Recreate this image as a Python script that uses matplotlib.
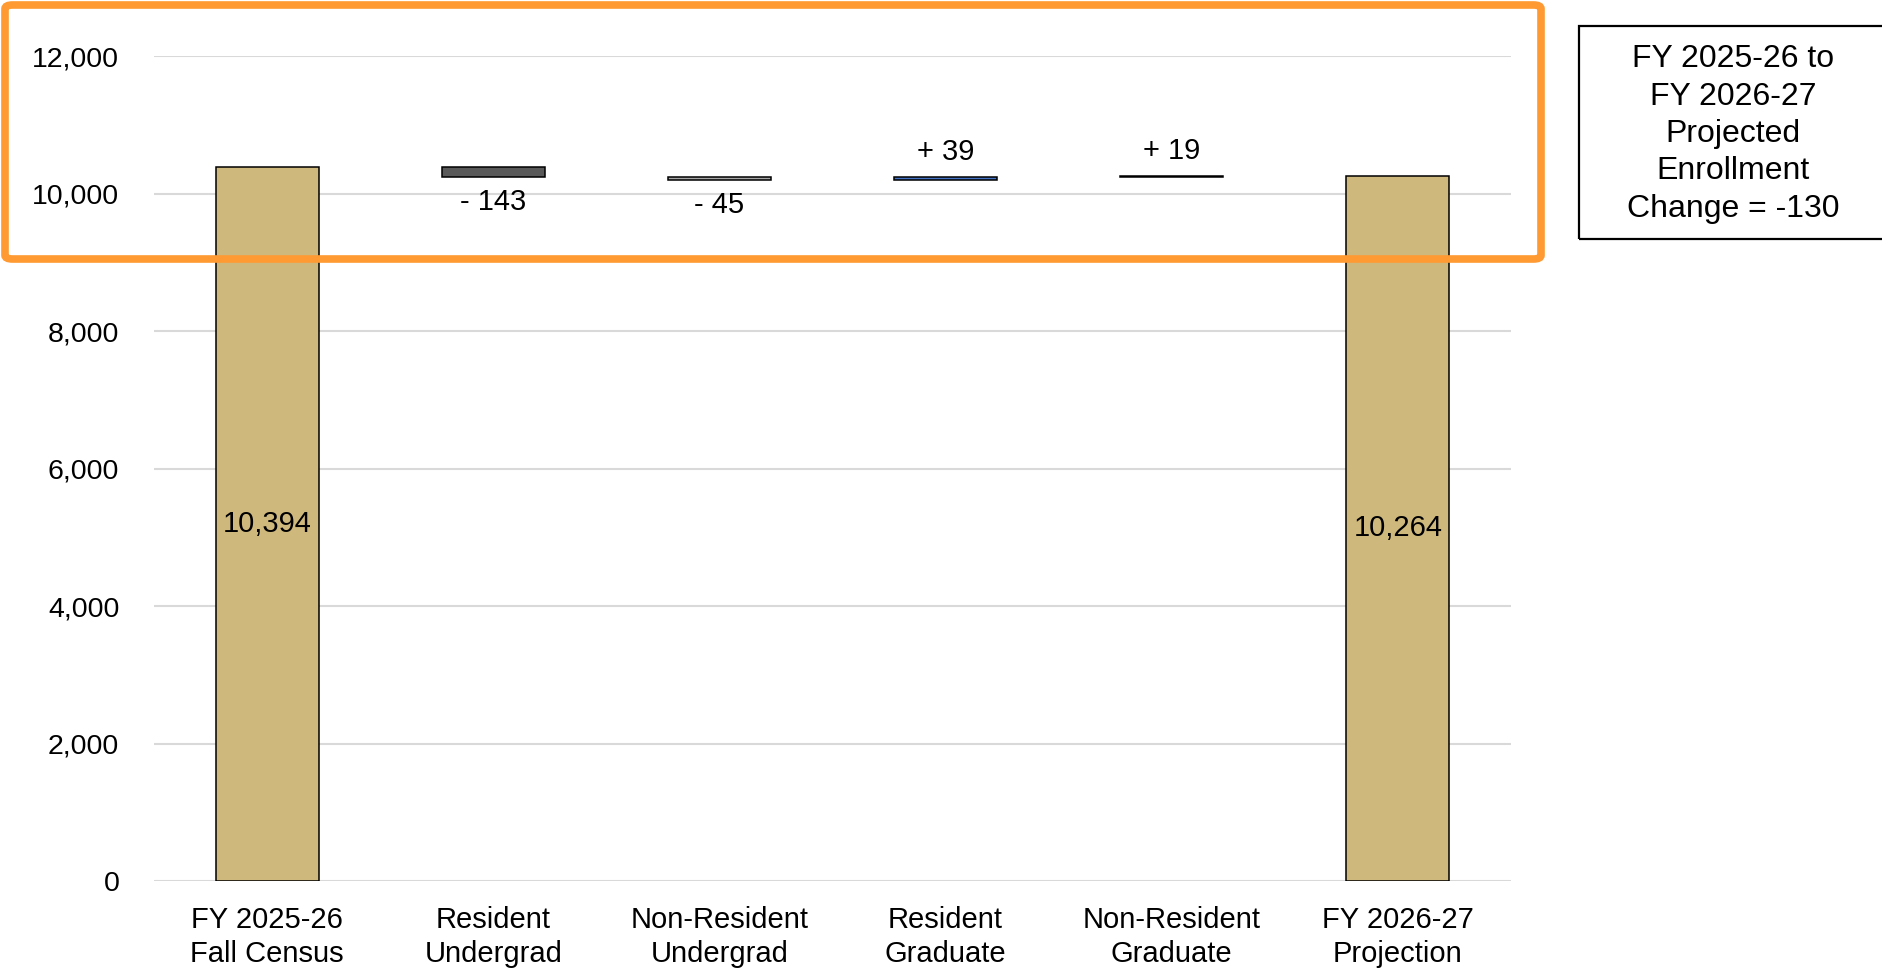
import matplotlib.pyplot as plt
from matplotlib.patches import FancyBboxPatch, Rectangle
import numpy as np

## Data
categories = ["FY 2025-26\nFall Census", "Resident\nUndergrad", "Non-Resident\nUndergrad",
              "Resident\nGraduate", "Non-Resident\nGraduate", "FY 2026-27\nProjection"]
start_total = 10394
changes = [-143, -45, 39, 19]
end_total = 10264
yticks = [0, 2000, 4000, 6000, 8000, 10000, 12000]
note_text = "FY 2025-26 to\nFY 2026-27\nProjected\nEnrollment\nChange = -130"

gold = "#CFB87C"
change_colors = ["#595959", "#A6A6A6", "#4472C4", "#404040"]

plt.rcParams['font.family'] = ['Liberation Sans', 'DejaVu Sans']

fig = plt.figure(figsize=(18.83, 9.69), dpi=100)
W, H = 1883, 969
ax = fig.add_axes([154 / W, 1 - 881 / H, (1511 - 154) / W, (881 - 56.3) / H])

x = np.arange(len(categories))
bw = 0.456
fs = 21

# totals
ax.bar([x[0], x[-1]], [start_total, end_total], width=bw, color=gold,
       edgecolor="black", linewidth=1.1, zorder=3)
for xi, v in ((x[0], start_total), (x[-1], end_total)):
    ax.text(xi, v / 2, f"{v:,}", ha="center", va="center", fontsize=fs, zorder=4)

# floating change bars
level = start_total
for i, d in enumerate(changes):
    xi = x[i + 1]
    bottom = level + min(d, 0)
    ax.bar(xi, abs(d), bottom=bottom, width=bw, color=change_colors[i],
           edgecolor="black", linewidth=1.1, zorder=3)
    if d < 0:
        lab = f"- {abs(d)}"
        ax.annotate(lab, (xi, bottom), xytext=(0, -18), textcoords="offset points",
                    ha="center", va="center", fontsize=fs, zorder=4)
    else:
        lab = f"+ {d}"
        ax.annotate(lab, (xi, bottom + d), xytext=(0, 18), textcoords="offset points",
                    ha="center", va="center", fontsize=fs, zorder=4)
    level += d

ax.set_xlim(-0.5, 5.5)
ax.set_ylim(0, 12000)
ax.set_yticks(yticks)
ax.set_yticklabels([f"{t:,}" for t in yticks])
ax.set_xticks(x)
ax.set_xticklabels(categories, fontsize=fs, linespacing=1.25)
ax.tick_params(axis="y", length=0, pad=25, labelsize=20.5)
ax.tick_params(axis="x", length=0, pad=18)
ax.grid(axis="y", color="#D9D9D9", linewidth=1.5, zorder=0)
for s in ax.spines.values():
    s.set_visible(False)

# orange highlight box around the top of the chart
hl = FancyBboxPatch((5 / W, 1 - 259 / H), (1541 - 5) / W, (259 - 5) / H,
                    boxstyle="round,pad=0,rounding_size=0.004",
                    transform=fig.transFigure, fill=False, edgecolor="#FF9A33",
                    linewidth=5.5, zorder=10)
fig.patches.append(hl)

# note box on the right (runs off the right edge)
note = Rectangle((1579 / W, 1 - 239 / H), 400 / W, (239 - 26) / H,
                 transform=fig.transFigure, fill=False, edgecolor="black", linewidth=1.6)
fig.patches.append(note)
fig.text(1733 / W, 1 - 134 / H, note_text, ha="center", va="center",
         fontsize=23, linespacing=1.32)

fig.savefig("out.png", dpi=100)
